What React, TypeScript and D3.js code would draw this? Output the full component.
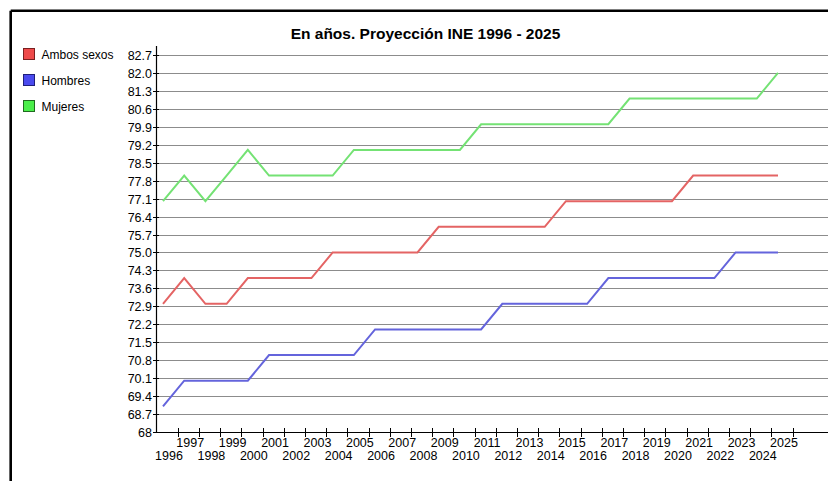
import React from 'react';
import * as d3 from 'd3';

const years = [1996, 1997, 1998, 1999, 2000, 2001, 2002, 2003, 2004, 2005, 2006, 2007, 2008, 2009, 2010, 2011, 2012, 2013, 2014, 2015, 2016, 2017, 2018, 2019, 2020, 2021, 2022, 2023, 2024, 2025];
const ambosSexos = [73, 74, 73, 73, 74, 74, 74, 74, 75, 75, 75, 75, 75, 76, 76, 76, 76, 76, 76, 77, 77, 77, 77, 77, 77, 78, 78, 78, 78, 78];
const hombres = [69, 70, 70, 70, 70, 71, 71, 71, 71, 71, 72, 72, 72, 72, 72, 72, 73, 73, 73, 73, 73, 74, 74, 74, 74, 74, 74, 75, 75, 75];
const mujeres = [77, 78, 77, 78, 79, 78, 78, 78, 78, 79, 79, 79, 79, 79, 79, 80, 80, 80, 80, 80, 80, 80, 81, 81, 81, 81, 81, 81, 81, 82];
const yTickLabels = ['68', '68.7', '69.4', '70.1', '70.8', '71.5', '72.2', '72.9', '73.6', '74.3', '75.0', '75.7', '76.4', '77.1', '77.8', '78.5', '79.2', '79.9', '80.6', '81.3', '82.0', '82.7'];
const seriesNames = ['Ambos sexos', 'Hombres', 'Mujeres'];
const title = 'En años. Proyección INE 1996 - 2025';

const W = 828;
const H = 481;
const FONT = '"Liberation Sans", Arial, sans-serif';

export default function App() {
  const x = d3.scaleLinear().domain([1996, 2025]).range([163, 778]);
  const y = d3.scaleLinear().domain([68, 82.7]).range([432, 55]);
  const axisX = 156;
  const rightX = 828;

  const series = [
    { name: seriesNames[0], values: ambosSexos, line: '#e46464', fill: '#ee4a4a', edge: '#7a1f1f' },
    { name: seriesNames[1], values: hombres, line: '#6464dc', fill: '#4a4aee', edge: '#1f1f7a' },
    { name: seriesNames[2], values: mujeres, line: '#74e274', fill: '#4aee4a', edge: '#1f6a1f' },
  ];

  const lineGen = d3
    .line<number>()
    .x((_, i) => x(years[i]))
    .y((v) => y(v));

  return (
    <svg
      width={W}
      height={H}
      style={{ position: 'absolute', left: 0, top: 0, background: '#fff' }}
      fontFamily={FONT}
    >
      <rect x={0} y={0} width={W} height={H} fill="#fff" />
      {/* frame */}
      <line x1={10.7} y1={10.7} x2={W} y2={10.7} stroke="#000" strokeWidth={2.6} />
      <line x1={10.7} y1={10.7} x2={10.7} y2={H} stroke="#000" strokeWidth={2.6} />

      {/* title */}
      <text x={425.5} y={39} textAnchor="middle" fontSize={15.5} fontWeight="bold" fill="#000">
        {title}
      </text>

      {/* legend */}
      {series.map((s, i) => (
        <g key={s.name}>
          <rect x={23.5} y={48.5 + i * 26} width={11} height={11} fill={s.fill} stroke={s.edge} strokeWidth={1} />
          <text x={41.5} y={58.5 + i * 26} fontSize={12} fill="#000">
            {s.name}
          </text>
        </g>
      ))}

      {/* gridlines */}
      {yTickLabels.map((t) => {
        const v = parseFloat(t);
        const yy = Math.round(y(v)) + 0.5;
        return (
          <g key={t}>
            {v > 68 && <line x1={axisX} x2={rightX} y1={yy} y2={yy} stroke="#8c8c8c" strokeWidth={1} />}
            <line x1={axisX - 3} x2={axisX + 3} y1={yy} y2={yy} stroke="#000" strokeWidth={1} />
            <text x={152} y={yy} dy="0.35em" textAnchor="end" fontSize={12.5} fill="#000">
              {t}
            </text>
          </g>
        );
      })}

      {/* axes */}
      <line x1={axisX + 0.5} x2={axisX + 0.5} y1={46} y2={432.5} stroke="#000" strokeWidth={1.2} />
      <line x1={axisX} x2={rightX} y1={432.5} y2={432.5} stroke="#000" strokeWidth={1.2} />

      {/* x ticks and labels */}
      {years.map((yr, i) => {
        const tx = Math.round(x(yr) + 14.7) + 0.5;
        const lx = x(yr) + 6;
        const odd = i % 2 === 1;
        return (
          <g key={yr}>
            <line x1={tx} x2={tx} y1={428} y2={437} stroke="#000" strokeWidth={1} />
            <text x={lx} y={odd ? 446.5 : 460} textAnchor="middle" fontSize={12.5} fill="#000">
              {yr}
            </text>
          </g>
        );
      })}

      {/* series lines */}
      {series.map((s) => (
        <path key={s.name} d={lineGen(s.values) || ''} fill="none" stroke={s.line} strokeWidth={2} strokeLinejoin="miter" />
      ))}
    </svg>
  );
}
